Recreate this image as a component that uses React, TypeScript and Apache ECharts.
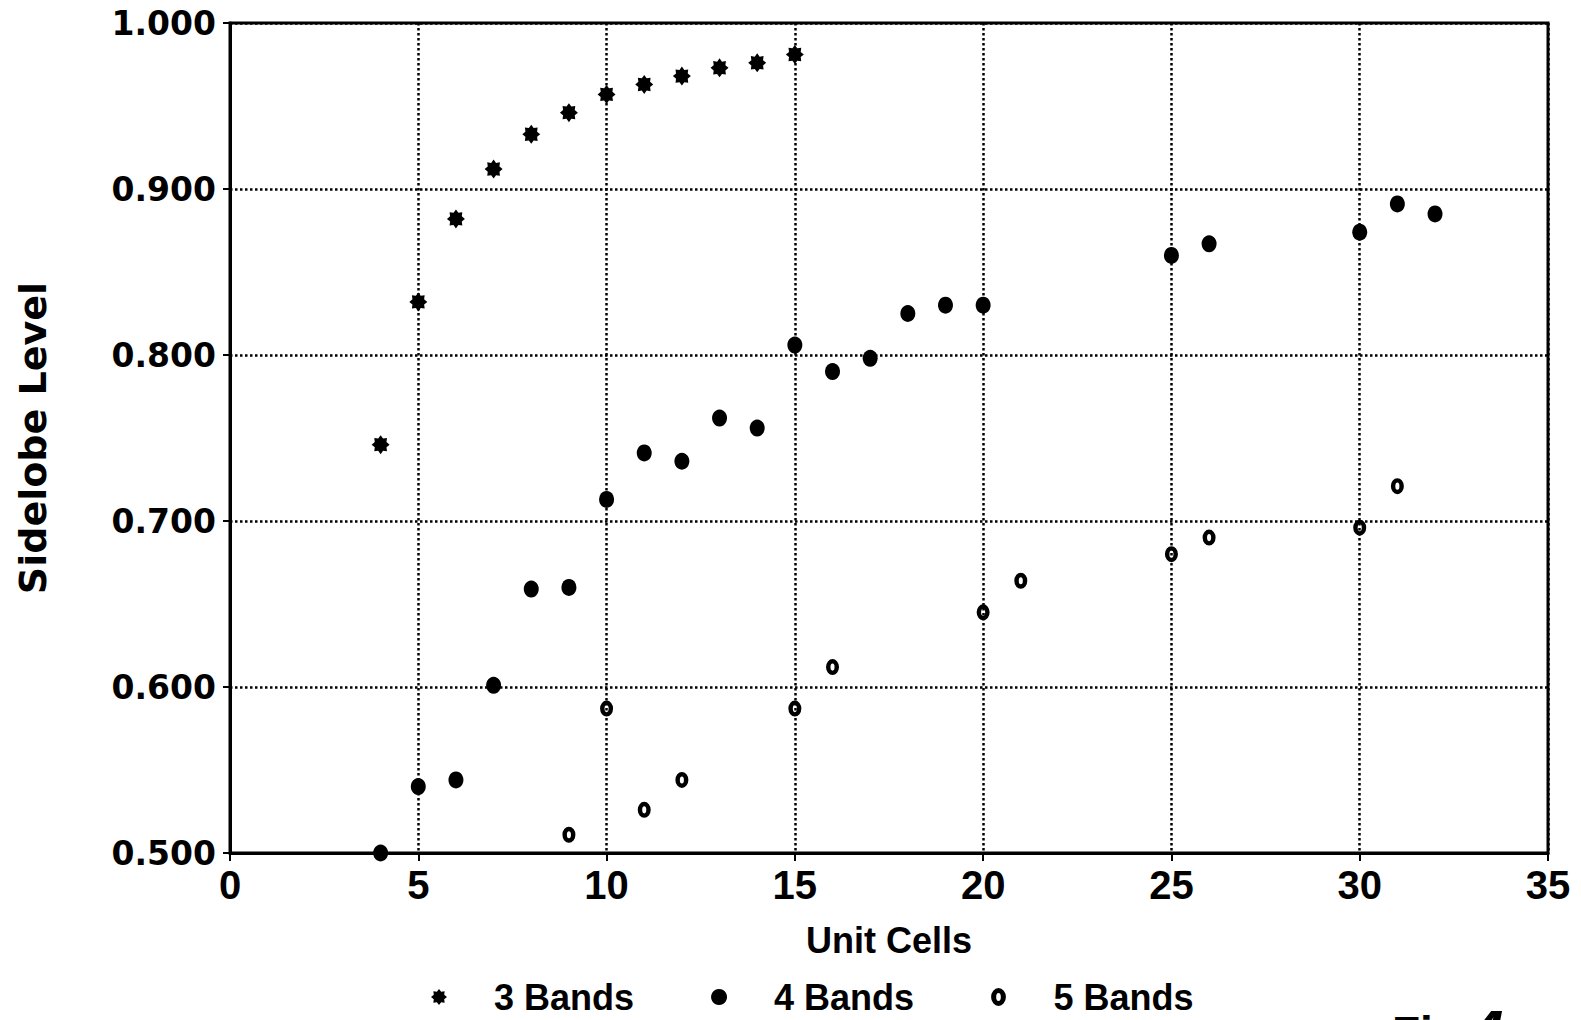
import React, { useEffect, useRef } from "react";
import * as echarts from "echarts";

const xTicks = [0, 5, 10, 15, 20, 25, 30, 35];
const yTicks = [0.5, 0.6, 0.7, 0.8, 0.9, 1.0];

const cells3 = [4, 5, 6, 7, 8, 9, 10, 11, 12, 13, 14, 15];
const level3 = [0.746, 0.832, 0.882, 0.912, 0.933, 0.946, 0.957, 0.963, 0.968, 0.973, 0.976, 0.981];

const cells4 = [4, 5, 6, 7, 8, 9, 10, 11, 12, 13, 14, 15, 16, 17, 18, 19, 20, 25, 26, 30, 31, 32];
const level4 = [0.5, 0.54, 0.544, 0.601, 0.659, 0.66, 0.713, 0.741, 0.736, 0.762, 0.756, 0.806, 0.79, 0.798, 0.825, 0.83, 0.83, 0.86, 0.867, 0.874, 0.891, 0.885];

const cells5 = [9, 10, 11, 12, 15, 16, 20, 21, 25, 26, 30, 31];
const level5 = [0.511, 0.587, 0.526, 0.544, 0.587, 0.612, 0.645, 0.664, 0.68, 0.69, 0.696, 0.721];

const seriesNames = ["3 Bands", "4 Bands", "5 Bands"];

const STAR =
  "path://M20,10 L16.5,12.7 L17.07,17.07 L12.7,16.5 L10,20 L7.3,16.5 L2.93,17.07 L3.5,12.7 L0,10 L3.5,7.3 L2.93,2.93 L7.3,3.5 L10,0 L12.7,3.5 L17.07,2.93 L16.5,7.3 Z";

const RING =
  "path://M0,8.5 A7,8.5 0 1,0 14,8.5 A7,8.5 0 1,0 0,8.5 Z M4.8,8.5 A2.2,3.8 0 1,1 9.2,8.5 A2.2,3.8 0 1,1 4.8,8.5 Z";

const SANS = "'Liberation Sans', Arial, sans-serif";
const WIDE = "'DejaVu Sans', 'Liberation Sans', sans-serif";

function zip(xs: number[], ys: number[]) {
  return xs.map((x, i) => [x, ys[i]]);
}

export default function App() {
  const ref = useRef<HTMLDivElement>(null);
  useEffect(() => {
    if (!ref.current) return;
    const chart = echarts.init(ref.current, undefined, { renderer: "svg" });
    const dotted = { color: "#000", width: 2.5, type: [2.5, 2.5] };
    chart.setOption({
      animation: false,
      backgroundColor: "#fff",
      grid: {
        left: 230,
        right: 33,
        top: 23,
        bottom: 167,
        show: true,
        borderColor: "#000",
        borderWidth: 3,
        backgroundColor: "transparent",
      },
      xAxis: {
        type: "value",
        min: xTicks[0],
        max: xTicks[xTicks.length - 1],
        interval: 5,
        name: "Unit Cells",
        nameLocation: "middle",
        nameGap: 69,
        nameTextStyle: { fontFamily: SANS, fontWeight: "bold", fontSize: 36, color: "#000" },
        axisLine: { show: true, lineStyle: { color: "#000", width: 3 } },
        axisTick: { show: true, length: 8, lineStyle: { color: "#000", width: 2 } },
        axisLabel: { fontFamily: SANS, fontWeight: "bold", fontSize: 40, color: "#000", margin: 12 },
        splitLine: { show: true, lineStyle: dotted },
      },
      yAxis: {
        type: "value",
        min: yTicks[0],
        max: yTicks[yTicks.length - 1],
        interval: 0.1,
        name: "Sidelobe Level",
        nameLocation: "middle",
        nameGap: 178,
        nameRotate: 90,
        nameTextStyle: { fontFamily: WIDE, fontWeight: "bold", fontSize: 38, color: "#000" },
        axisLine: { show: true, lineStyle: { color: "#000", width: 3 } },
        axisTick: { show: true, length: 7, lineStyle: { color: "#000", width: 2 } },
        axisLabel: {
          fontFamily: WIDE,
          fontWeight: "bold",
          fontSize: 33,
          color: "#000",
          margin: 14,
          formatter: (v: number) => v.toFixed(3),
        },
        splitLine: { show: true, lineStyle: dotted },
      },
      legend: {
        data: seriesNames,
        left: 426,
        top: 974,
        orient: "horizontal",
        itemWidth: 16,
        itemHeight: 18,
        itemGap: 77,
        textStyle: {
          fontFamily: SANS,
          fontWeight: "bold",
          fontSize: 36,
          color: "#000",
          padding: [0, 0, 0, 42],
        },
      },
      graphic: [
        {
          type: "text",
          left: 1392,
          top: 1010,
          style: { text: "Fig", fontFamily: SANS, fontWeight: "bold", fontSize: 46, fill: "#000" },
        },
        {
          type: "text",
          left: 1470,
          top: 1001,
          style: { text: "4", fontFamily: SANS, fontWeight: "bold", fontStyle: "italic", fontSize: 60, fill: "#000" },
        },
      ],
      series: [
        {
          name: seriesNames[0],
          type: "scatter",
          data: zip(cells3, level3),
          symbol: STAR,
          symbolSize: [18, 19],
          itemStyle: { color: "#000", opacity: 1 },
        },
        {
          name: seriesNames[1],
          type: "scatter",
          data: zip(cells4, level4),
          symbol: "circle",
          symbolSize: [15, 17],
          itemStyle: { color: "#000", opacity: 1 },
        },
        {
          name: seriesNames[2],
          type: "scatter",
          data: zip(cells5, level5),
          symbol: RING,
          symbolSize: [13, 16],
          itemStyle: { color: "#000", opacity: 1 },
        },
      ],
    });
    return () => chart.dispose();
  }, []);
  return (
    <div
      ref={ref}
      style={{ position: "fixed", left: 0, top: 0, width: 1581, height: 1020, background: "#fff" }}
    />
  );
}
